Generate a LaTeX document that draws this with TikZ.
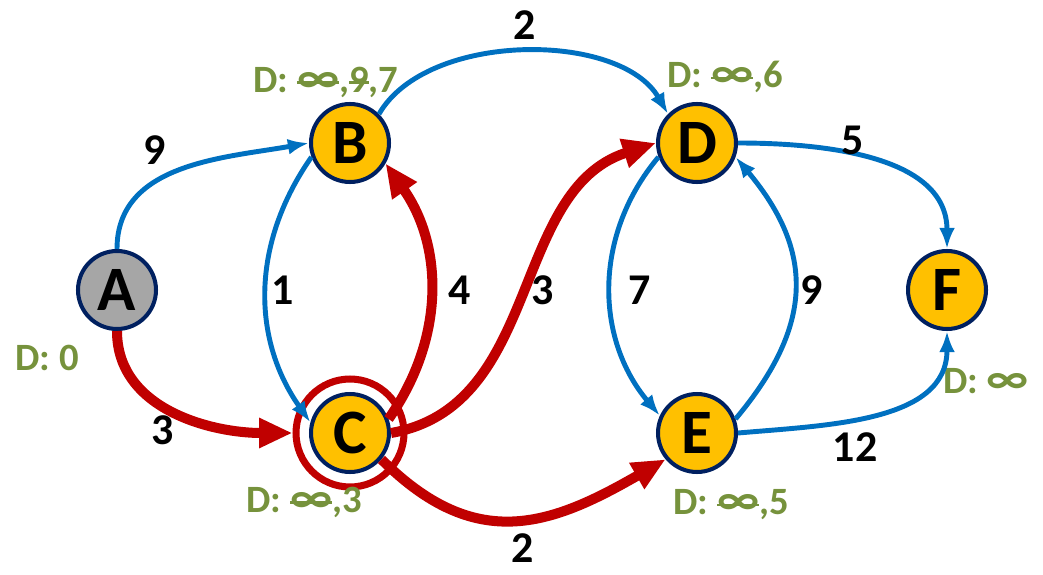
\documentclass[tikz,border=0pt]{standalone}
\usepackage{fontspec}
\setmainfont{Carlito}
\usetikzlibrary{arrows.meta}
\definecolor{nodegold}{HTML}{FFC000}
\definecolor{nodeline}{HTML}{002060}
\definecolor{edgeblue}{HTML}{0070C0}
\definecolor{edgered}{HTML}{C00000}
\definecolor{distgreen}{HTML}{76923C}
\definecolor{startgray}{HTML}{A6A6A6}
% struck-out value and a wider infinity
\newcommand{\crossed}[1]{\setbox0\hbox{#1}\rlap{\rule[0.45ex]{\wd0}{1.3pt}}\box0}
\newcommand{\infsym}{\scalebox{1.3}[1.15]{∞}}

\begin{document}
\begin{tikzpicture}[x=0.02cm, y=-0.02cm,
  vertex/.style={circle, draw=nodeline, line width=2.3pt, fill=nodegold, minimum size=1.56cm, inner sep=0pt, font=\fontsize{36}{36}\selectfont\bfseries},
  blueedge/.style={draw=edgeblue, line width=2.8pt, -{Latex[length=12pt, width=9pt]}},
  rededge/.style={draw=edgered, line width=5.7pt, -{Triangle[length=19pt, width=16pt]}},
  weight/.style={font=\fontsize{25}{25}\selectfont\bfseries},
  dist/.style={text=distgreen, font=\fontsize{22}{22}\selectfont\bfseries}]
  \useasboundingbox (0,0) rectangle (1043,574);

  % Vertices
  \node[vertex, fill=startgray] (A) at (117,290) {A};
  \node[vertex] (B) at (350,143) {B};
  \node[vertex] (C) at (350,433) {C};
  \node[vertex] (D) at (697,143) {D};
  \node[vertex] (E) at (697,433) {E};
  \node[vertex] (F) at (947,290) {F};
  \node[circle, draw=edgered, line width=4pt, minimum size=2.16cm] (Cring) at (C) {};

  % Distances
  \node[dist] (dA) at (47,358) {D: 0};
  \node[dist] (dB) at (326,82) {D: \crossed{\infsym},\crossed{9},7};
  \node[dist] (dC) at (304,502) {D: \crossed{\infsym},3};
  \node[dist] (dD) at (725,77) {D: \crossed{\infsym},6};
  \node[dist] (dE) at (731,505) {D: \crossed{\infsym},5};
  \node[dist] (dF) at (986,381) {D: \infsym};

  % Blue edges
  \draw[blueedge] (A.north) to[out=90, in=190] (B.west);
  \draw[blueedge] (B.200) to[out=235, in=125] (C.165);
  \draw[blueedge] (B.45) to[out=60, in=120, looseness=0.85] (D.135);
  \draw[blueedge] (D.200) to[out=230, in=130] (E.155);
  \draw[blueedge] (E.20) to[out=50, in=-50, looseness=1.2] (D.-20);
  \draw[blueedge] (D.east) to[out=0, in=90] (F.north);
  \draw[blueedge] (E.east) to[out=5, in=-90] (F.south);

  % Red edges (shortest path tree)
  \draw[rededge] (A.south) to[out=-90, in=180] (Cring.west);
  \draw[rededge] (C.20) to[out=55, in=-55] (B.-30);
  \draw[rededge] (C.east) to[out=10, in=198] (D.west);
  \draw[rededge] (C.-40) to[out=-45, in=-150, looseness=1.2] (E.-140);

  % Weights
  \node[weight] (wAB) at (155,150) {9};
  \node[weight] (wAC) at (163,430) {3};
  \node[weight] (wBC) at (283,290) {1};
  \node[weight] (wCB) at (460,290) {4};
  \node[weight] (wBD) at (525,25) {2};
  \node[weight] (wCD) at (543,290) {3};
  \node[weight] (wCE) at (523,548) {2};
  \node[weight] (wDE) at (640,290) {7};
  \node[weight] (wED) at (812,290) {9};
  \node[weight] (wDF) at (853,140) {5};
  \node[weight] (wEF) at (855,447) {12};
\end{tikzpicture}
\end{document}
